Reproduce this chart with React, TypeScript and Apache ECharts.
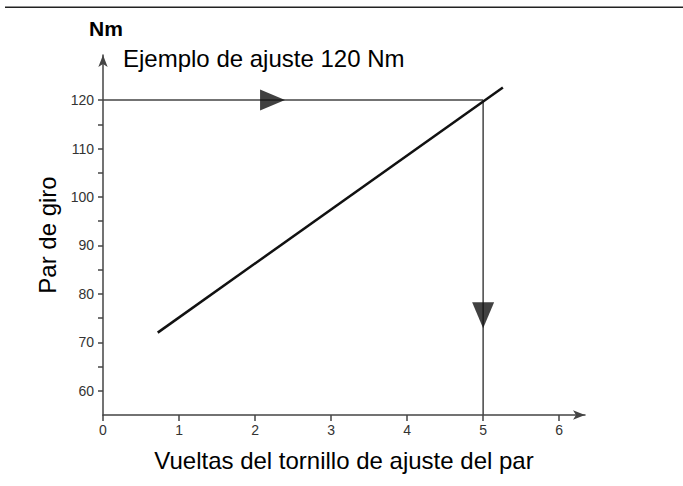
import React, { useEffect, useRef } from "react";
import * as echarts from "echarts";

const xTicks = [0, 1, 2, 3, 4, 5, 6];
const yTicks = [60, 65, 70, 75, 80, 85, 90, 95, 100, 105, 110, 115, 120];
const yLabels = [60, 70, 80, 90, 100, 110, 120];
const torqueLine: [number, number][] = [
  [0.72, 72],
  [5.26, 122.6],
];
const settingValue = 120;
const turnsAtSetting = 5;
const guideH: [number, number][] = [
  [0, settingValue],
  [turnsAtSetting, settingValue],
];
const guideV: [number, number][] = [
  [turnsAtSetting, settingValue],
  [turnsAtSetting, 55],
];
const arrowRight: [number, number][] = [[2.23, settingValue]];
const arrowDown: [number, number][] = [[turnsAtSetting, 75.6]];

const FONT = "'Liberation Sans', Arial, sans-serif";

export default function App() {
  const ref = useRef<HTMLDivElement>(null);
  useEffect(() => {
    document.body.style.margin = "0";
    if (!ref.current) return;
    const chart = echarts.init(ref.current, null, { renderer: "svg" });
    chart.setOption({
      animation: false,
      backgroundColor: "#ffffff",
      textStyle: { fontFamily: FONT },
      grid: { left: 103, right: 98, top: 55, bottom: 71 },
      graphic: [
        {
          type: "rect",
          id: "topRule",
          shape: { x: 5, y: 6.5, width: 678, height: 1.6 },
          style: { fill: "#222" },
          silent: true,
          z: 100,
        },
        {
          type: "text",
          id: "unit",
          left: 89,
          top: 18,
          style: { text: "Nm", font: `bold 21px ${FONT}`, fill: "#000" },
        },
        {
          type: "text",
          id: "example",
          left: 123,
          top: 46,
          style: { text: "Ejemplo de ajuste 120 Nm", font: `24px ${FONT}`, fill: "#000" },
        },
      ],
      xAxis: {
        type: "value",
        min: 0,
        max: 6.34,
        splitLine: { show: false },
        axisLine: {
          show: true,
          symbol: ["none", "arrow"],
          symbolSize: [7, 12],
          lineStyle: { color: "#444", width: 1.5 },
        },
        axisTick: {
          show: true,
          length: 6,
          customValues: xTicks,
          lineStyle: { color: "#444", width: 1.5 },
        },
        axisLabel: {
          customValues: xTicks,
          color: "#333",
          fontSize: 14,
          margin: 8,
          fontFamily: FONT,
        },
        name: "Vueltas del tornillo de ajuste del par",
        nameLocation: "middle",
        nameGap: 33,
        nameTextStyle: { color: "#000", fontSize: 24, fontFamily: FONT },
      },
      yAxis: {
        type: "value",
        min: 55,
        max: 129.3,
        splitLine: { show: false },
        axisLine: {
          show: true,
          symbol: ["none", "arrow"],
          symbolSize: [7, 12],
          lineStyle: { color: "#444", width: 1.5 },
        },
        axisTick: {
          show: true,
          length: 5,
          customValues: yTicks,
          lineStyle: { color: "#444", width: 1.5 },
        },
        axisLabel: {
          customValues: yLabels,
          color: "#333",
          fontSize: 14,
          margin: 9,
          fontFamily: FONT,
        },
        name: "Par de giro",
        nameLocation: "middle",
        nameGap: 36,
        nameTextStyle: { color: "#000", fontSize: 24, fontFamily: FONT },
      },
      series: [
        {
          type: "line",
          data: guideH,
          symbol: "none",
          lineStyle: { color: "#444", width: 1.5 },
        },
        {
          type: "line",
          data: guideV,
          symbol: "none",
          lineStyle: { color: "#444", width: 1.5 },
        },
        {
          type: "line",
          data: torqueLine,
          symbol: "none",
          lineStyle: { color: "#111", width: 2.5 },
        },
        {
          type: "scatter",
          data: arrowRight,
          symbol: "triangle",
          symbolSize: [21, 25],
          symbolRotate: -90,
          itemStyle: { color: "#111" },
          z: 5,
        },
        {
          type: "scatter",
          data: arrowDown,
          symbol: "triangle",
          symbolSize: [22, 26],
          symbolRotate: 180,
          itemStyle: { color: "#111" },
          z: 5,
        },
      ],
    });
    return () => chart.dispose();
  }, []);
  return <div ref={ref} style={{ width: 683, height: 486 }} />;
}
